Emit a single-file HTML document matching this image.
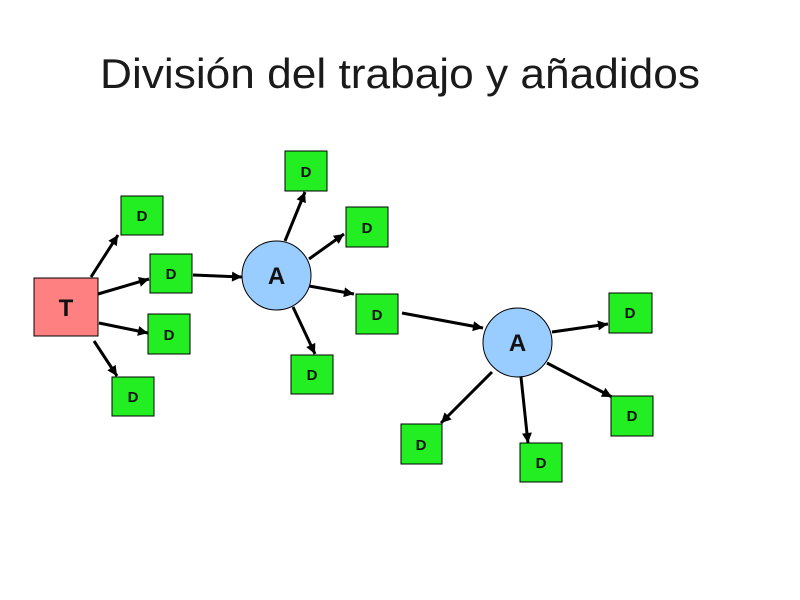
<!DOCTYPE html>
<html><head><meta charset="utf-8"><style>
html,body{margin:0;padding:0;background:#fff;}
svg{display:block;}
</style></head><body>
<svg width="800" height="600" viewBox="0 0 800 600" xmlns="http://www.w3.org/2000/svg">
<defs>
<marker id="ah" viewBox="0 0 10 10" refX="10" refY="5" markerWidth="14" markerHeight="10" markerUnits="userSpaceOnUse" orient="auto">
<path d="M0,0 L10,5 L0,10 z" fill="#000"/>
</marker>
</defs>
<text x="400" y="88" text-anchor="middle" font-family="Liberation Sans, sans-serif" font-size="42" fill="#1a1a1a" textLength="600" lengthAdjust="spacingAndGlyphs">División del trabajo y añadidos</text>
<g stroke="#000" stroke-width="3" marker-end="url(#ah)">
<line x1="91" y1="277" x2="118" y2="235"/>
<line x1="98" y1="294" x2="149" y2="279"/>
<line x1="99" y1="323" x2="148" y2="333"/>
<line x1="94" y1="341" x2="117" y2="376"/>
<line x1="193" y1="275" x2="242" y2="277"/>
<line x1="285" y1="241" x2="305" y2="192"/>
<line x1="309" y1="259" x2="344" y2="234"/>
<line x1="309" y1="286" x2="354" y2="294"/>
<line x1="293" y1="307" x2="315" y2="354"/>
<line x1="402" y1="313" x2="483" y2="328"/>
<line x1="552" y1="332" x2="608" y2="324"/>
<line x1="492" y1="372" x2="441" y2="423"/>
<line x1="521" y1="377" x2="528" y2="443"/>
<line x1="547" y1="363" x2="612" y2="397"/>
</g>
<rect x="34" y="278" width="64" height="58" fill="#ff8080" stroke="#000" stroke-width="1"/>
<text x="66" y="316" text-anchor="middle" font-family="Liberation Sans, sans-serif" font-weight="bold" font-size="24" fill="#111">T</text>
<g fill="#22ee22" stroke="#000" stroke-width="1">
<rect x="121" y="196" width="42" height="39"/>
<rect x="150" y="254" width="42" height="39"/>
<rect x="148" y="314" width="42" height="40"/>
<rect x="112" y="377" width="42" height="39"/>
<rect x="285" y="151" width="42" height="40"/>
<rect x="346" y="207" width="42" height="40"/>
<rect x="356" y="294" width="42" height="40"/>
<rect x="291" y="355" width="42" height="39"/>
<rect x="609" y="293" width="43" height="40"/>
<rect x="401" y="424" width="41" height="40"/>
<rect x="520" y="443" width="42" height="39"/>
<rect x="611" y="396" width="42" height="40"/>
</g>
<g font-family="Liberation Sans, sans-serif" font-weight="bold" font-size="15" fill="#111" text-anchor="middle">
<text x="142" y="221">D</text>
<text x="171" y="279">D</text>
<text x="169" y="340">D</text>
<text x="133" y="402">D</text>
<text x="306" y="177">D</text>
<text x="367" y="233">D</text>
<text x="377" y="320">D</text>
<text x="312" y="380">D</text>
<text x="630" y="318">D</text>
<text x="421" y="450">D</text>
<text x="541" y="468">D</text>
<text x="632" y="421">D</text>
</g>
<circle cx="276.5" cy="275.5" r="34.5" fill="#99ccff" stroke="#000" stroke-width="1"/>
<circle cx="517.5" cy="342.5" r="34.5" fill="#99ccff" stroke="#000" stroke-width="1"/>
<g font-family="Liberation Sans, sans-serif" font-weight="bold" font-size="24" fill="#111" text-anchor="middle">
<text x="276.5" y="284">A</text>
<text x="517.5" y="351">A</text>
</g>
</svg>
</body></html>
